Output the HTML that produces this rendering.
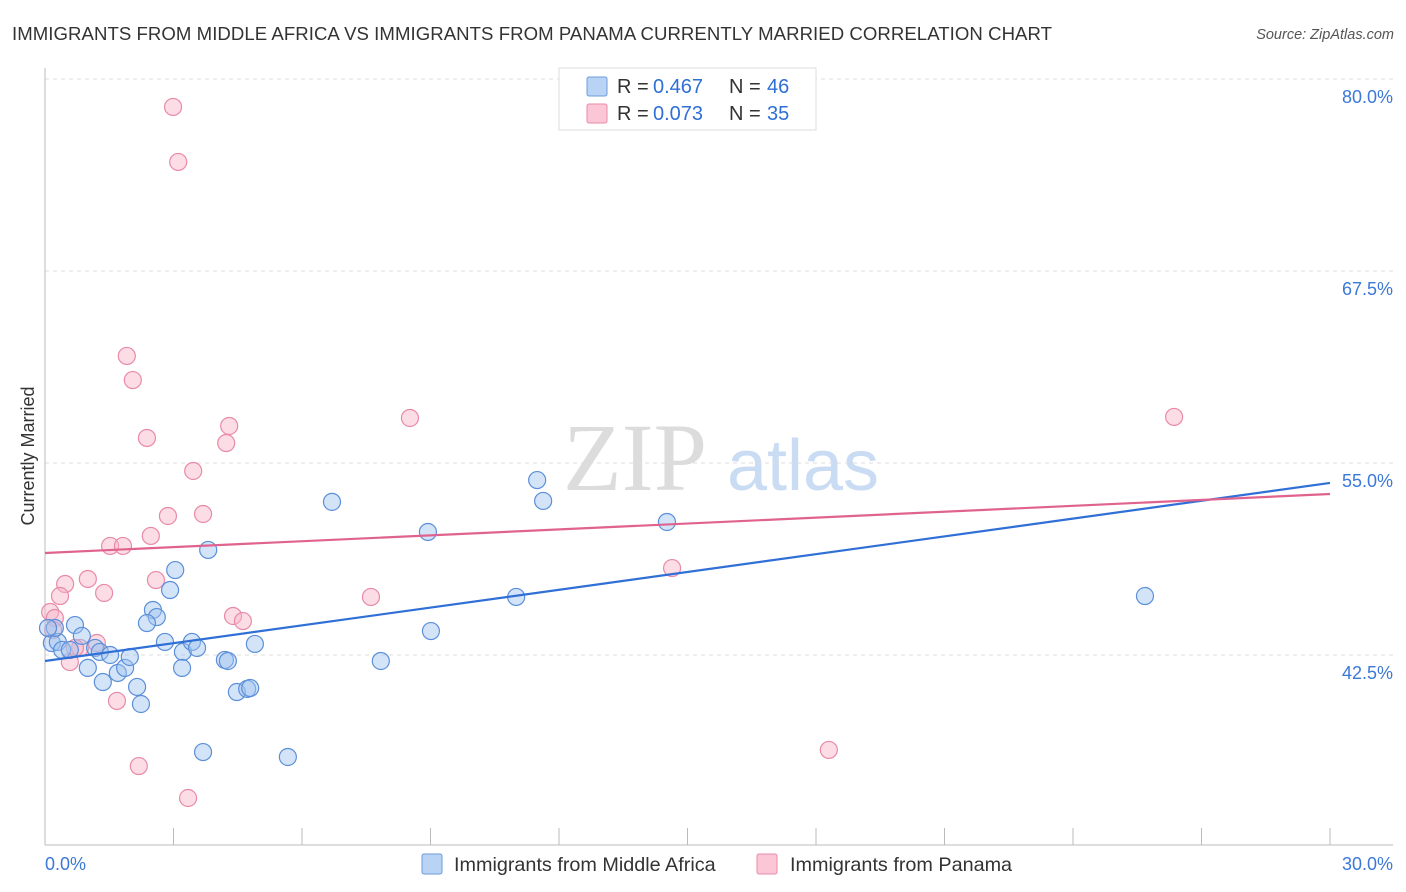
<!DOCTYPE html>
<html><head><meta charset="utf-8"><style>
body{margin:0;background:#fff;font-family:"Liberation Sans",sans-serif;}
svg{display:block}
</style></head><body>
<svg id="chart" width="1406" height="892" viewBox="0 0 1406 892">
<text x="12" y="40" font-size="18.6" fill="#333" textLength="1040">IMMIGRANTS FROM MIDDLE AFRICA VS IMMIGRANTS FROM PANAMA CURRENTLY MARRIED CORRELATION CHART</text>
<text x="1394" y="39" font-size="14.5" fill="#555" font-style="italic" text-anchor="end">Source: ZipAtlas.com</text>
<g>
<text x="635" y="490" font-size="96" font-family="Liberation Serif,serif" fill="#dcdcdc" text-anchor="middle">ZIP</text>
<text x="803" y="490" font-size="72" fill="#c9dcf3" text-anchor="middle">atlas</text>
</g>
<text transform="translate(34,456) rotate(-90)" font-size="18" fill="#333" text-anchor="middle">Currently Married</text>
<g id="grid"></g>
<g id="axes"></g>
<g id="marks"></g>
<g>
<rect x="559" y="68" width="257" height="62" fill="#fff" stroke="#ddd"/>
<rect x="587" y="77" width="20" height="19" fill="#b9d3f5" stroke="#6b9bdc" rx="2"/>
<rect x="587" y="104" width="20" height="19" fill="#fbc7d6" stroke="#e88aa8" rx="2"/>
<g font-size="20" fill="#333">
<text x="617" y="93">R =</text><text x="653" y="93" fill="#2f6fd6">0.467</text>
<text x="729" y="93">N =</text><text x="767" y="93" fill="#2f6fd6">46</text>
<text x="617" y="120">R =</text><text x="653" y="120" fill="#2f6fd6">0.073</text>
<text x="729" y="120">N =</text><text x="767" y="120" fill="#2f6fd6">35</text>
</g>
</g>
<g>
<rect x="422" y="854" width="20" height="20" fill="#b9d3f5" stroke="#6b9bdc" rx="2"/>
<text x="454" y="871" font-size="19.8" fill="#333">Immigrants from Middle Africa</text>
<rect x="757" y="854" width="20" height="20" fill="#fbc7d6" stroke="#e88aa8" rx="2"/>
<text x="790" y="871" font-size="19.8" fill="#333">Immigrants from Panama</text>
</g>
</svg>
<script>
const yTicks=[80.0,67.5,55.0,42.5];
const xTickLabels=["0.0%","30.0%"];
const blueX=[0.16,0.30,0.23,0.40,0.70,0.86,1.00,1.17,1.28,1.35,1.52,1.70,1.87,1.98,2.15,2.24,2.52,2.61,2.38,2.80,2.92,3.04,3.22,3.20,3.43,3.55,3.81,3.69,4.20,4.27,4.48,4.72,4.79,4.90,5.67,6.70,7.84,8.94,9.01,11.00,11.49,11.63,14.52,25.68,0.07,0.58];
const blueY=[43.28,43.35,44.26,42.83,44.45,43.74,41.66,42.96,42.70,40.74,42.50,41.33,41.66,42.37,40.42,39.31,45.43,44.97,44.58,43.35,46.73,48.03,42.70,41.66,43.35,42.96,49.34,36.18,42.18,42.11,40.09,40.29,40.35,43.22,35.86,52.47,42.11,50.51,44.06,46.28,53.89,52.53,51.16,46.34,44.26,42.83];
const pinkX=[2.99,3.11,1.91,2.05,2.38,4.30,4.23,3.46,2.87,3.69,2.47,1.52,1.82,2.59,1.00,0.47,0.35,1.38,0.12,0.23,0.19,1.21,0.82,0.58,4.39,4.62,1.68,2.19,3.34,7.61,8.52,14.64,18.30,26.36,0.70];
const pinkY=[78.18,74.60,61.97,60.40,56.63,57.41,56.30,54.48,51.55,51.68,50.25,49.60,49.60,47.38,47.45,47.12,46.34,46.54,45.30,44.91,44.13,43.28,42.96,42.04,45.04,44.71,39.51,35.27,33.19,46.28,57.93,48.16,36.32,58.00,42.96];
const blueTrend=[42.11,53.70];
const pinkTrend=[49.14,52.98];
const NS="http://www.w3.org/2000/svg";
function sx(v){return 45+v/30*1285;}
function sy(v){return 79+(80-v)*15.36;}
function mk(t,a,p){const e=document.createElementNS(NS,t);for(const k in a)e.setAttribute(k,a[k]);p.appendChild(e);return e;}
const grid=document.getElementById('grid'),axes=document.getElementById('axes'),marks=document.getElementById('marks');
yTicks.forEach(v=>{
 const l=mk('line',{x1:45,x2:1393,y1:sy(v),y2:sy(v),stroke:'#ddd','stroke-dasharray':'4,4'},grid);
 
 
 const t=mk('text',{x:1393,y:sy(v)+24,'font-size':18,fill:'#3b78d8','text-anchor':'end'},grid);
 t.textContent=v.toFixed(1)+'%';
 
 
});
const xa=mk('line',{x1:45,x2:1393,y1:845,y2:845,stroke:'#bbb'},axes);


const ya=mk('line',{x1:45,x2:45,y1:68,y2:845,stroke:'#bbb'},axes);


for(let i=0;i<=10;i++){
 const tk=mk('line',{x1:sx(i*3),x2:sx(i*3),y1:828,y2:845,stroke:'#bbb'},axes);
 
 
}
const xl0=mk('text',{x:45,y:870,'font-size':18,fill:'#3b78d8'},axes);xl0.textContent=xTickLabels[0];


const xl1=mk('text',{x:1393,y:870,'font-size':18,fill:'#3b78d8','text-anchor':'end'},axes);xl1.textContent=xTickLabels[1];


pinkX.forEach((x,i)=>{
 const c=mk('circle',{cx:sx(x),cy:sy(pinkY[i]),r:8.5,fill:'rgba(248,180,200,0.45)',stroke:'#e88aa8','stroke-width':1.2},marks);
 
 
});
blueX.forEach((x,i)=>{
 const c=mk('circle',{cx:sx(x),cy:sy(blueY[i]),r:8.5,fill:'rgba(160,196,240,0.45)',stroke:'#5b8fd9','stroke-width':1.2},marks);
 
 
});
const tb=mk('line',{x1:sx(0),x2:sx(30),y1:sy(blueTrend[0]),y2:sy(blueTrend[1]),stroke:'#2f6fd6','stroke-width':2.2},marks);


const tp=mk('line',{x1:sx(0),x2:sx(30),y1:sy(pinkTrend[0]),y2:sy(pinkTrend[1]),stroke:'#e0628e','stroke-width':2.2},marks);


</script>
</body></html>
